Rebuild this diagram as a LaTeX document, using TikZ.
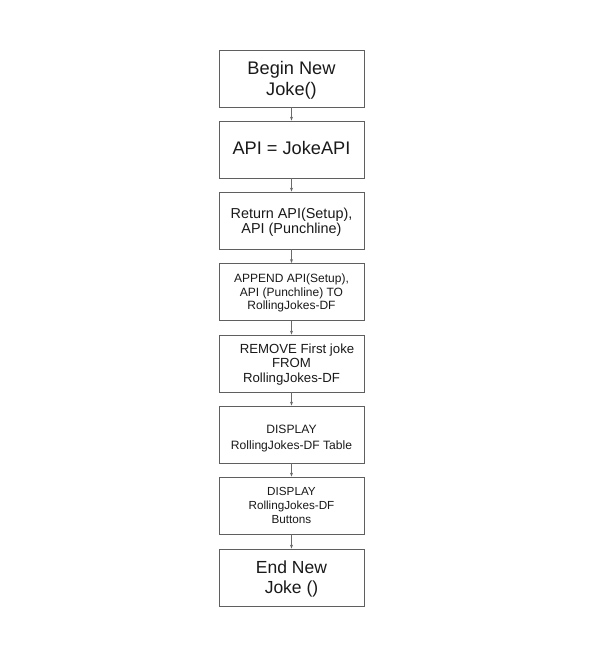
\documentclass[tikz,border=0pt]{standalone}
\usepackage{fontspec}
\setmainfont{Liberation Sans}
\usetikzlibrary{arrows.meta}
\definecolor{boxline}{HTML}{5F5F5F}
\definecolor{arrline}{HTML}{6A6A6A}
\newcommand\lowered[2]{\raisebox{-#1}[\height][\depth]{\begin{tabular}{@{}c@{}}#2\end{tabular}}}
\begin{document}
\begin{tikzpicture}[x=1pt,y=-1pt,
  stepbox/.style={draw=boxline,line width=0.8pt,minimum width=145pt,minimum height=57pt,align=center,inner sep=2pt,text=black!90},
  flow/.style={draw=arrline,line width=0.8pt,-{Stealth[length=4pt,width=3pt]}}]
\useasboundingbox (0,0) rectangle (593,656);
\node[stepbox,font=\fontsize{18.2}{21.5}\selectfont] (b1) at (291.5,78.5) {\lowered{2pt}{Begin New\\Joke()}};
\node[stepbox,font=\fontsize{18.2}{21.5}\selectfont] (b2) at (291.5,149.5) {\lowered{1pt}{API = JokeAPI}};
\node[stepbox,font=\fontsize{14.4}{14.7}\selectfont] (b3) at (291.5,220.5) {\lowered{2.5pt}{Return API(Setup),\\API (Punchline)}};
\node[stepbox,font=\fontsize{12}{13.2}\selectfont] (b4) at (291.5,292) {\lowered{1.5pt}{APPEND API(Setup),\\API (Punchline) TO\\RollingJokes-DF}};
\node[stepbox,font=\fontsize{13.2}{14.2}\selectfont] (b5) at (291.5,363.5) {\lowered{1.5pt}{\hspace*{11pt}REMOVE First joke\\FROM\\RollingJokes-DF}};
\node[stepbox,font=\fontsize{12.1}{16}\selectfont] (b6) at (291.5,434.5) {\lowered{4pt}{DISPLAY\\RollingJokes-DF Table}};
\node[stepbox,font=\fontsize{11.7}{14.2}\selectfont] (b7) at (291.5,505.5) {\lowered{1pt}{DISPLAY\\RollingJokes-DF\\Buttons}};
\node[stepbox,font=\fontsize{17.5}{20.5}\selectfont] (b8) at (291.5,577.5) {\lowered{2pt}{End New\\Joke ()}};
\foreach \a/\b in {b1/b2,b2/b3,b3/b4,b4/b5,b5/b6,b6/b7,b7/b8}
  \draw[flow] (\a) -- (\b);
\end{tikzpicture}
\end{document}
